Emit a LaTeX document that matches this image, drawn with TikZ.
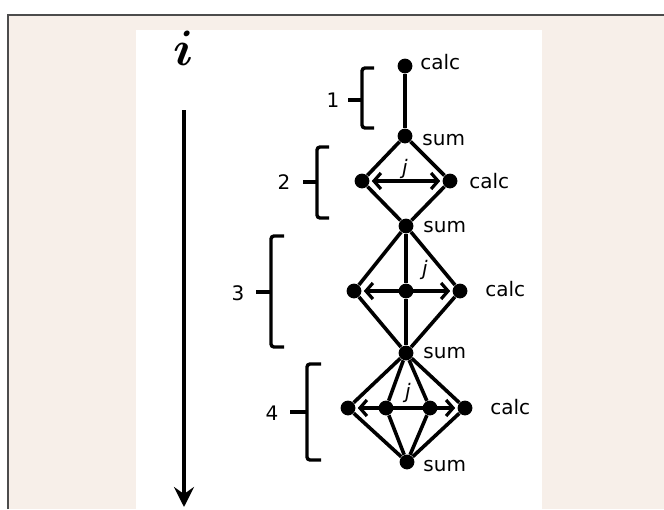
\documentclass[tikz,border=0pt]{standalone}
\usepackage{bm}
\usepackage{fontspec}
\setmainfont{DejaVu Sans}
\usetikzlibrary{arrows.meta,positioning}
\definecolor{paper}{RGB}{247,239,233}
\tikzset{dot/.style={circle,fill=black,inner sep=0pt,minimum size=7.4pt},
link/.style={line width=1.8pt},
jarrow/.style={line width=1.6pt,{Straight Barb[length=3.5pt,width=8pt]}-{Straight Barb[length=3.5pt,width=8pt]},shorten <=1pt,shorten >=1pt},
lbl/.style={font=\fontsize{10}{11}\selectfont,inner sep=1pt},
jlbl/.style={font=\fontsize{10}{11}\selectfont\itshape,inner sep=0pt},
brk/.style={line width=1.7pt,rounded corners=1.5pt}}

\begin{document}
\begin{tikzpicture}[x=0.5pt,y=-0.5pt]
\useasboundingbox (0,0) rectangle (664,509);
\fill[paper] (8,15) rectangle (664,509);
\draw[black!70,line width=0.6pt] (8,509) -- (8,15) -- (664,15);
\fill[white] (136,30) rectangle (542,509);
% direction i
\node[font=\fontsize{25}{27}\selectfont] (ilbl) at (184,48) {$\bm{i}$};
\coordinate (itop) at (184,110);
\coordinate (ibot) at (184,507);
\draw[line width=1.8pt,-{Stealth[length=10pt,width=10pt,inset=3.5pt]}] (itop) -- (ibot);
% level 1
\node[dot] (c1) at (405,66) {};
\node[dot] (s1) at (405,136) {};
\draw[link] (c1) -- (s1);
% level 2
\node[dot] (l2) at (362,181) {};
\node[dot] (r2) at (450,181) {};
\node[dot] (s2) at (406,226) {};
\draw[link] (s1) -- (l2) -- (s2) -- (r2) -- (s1);
\draw[jarrow] (l2) -- (r2);
% level 3
\node[dot] (l3) at (354,291) {};
\node[dot] (m3) at (406,291) {};
\node[dot] (r3) at (460,291) {};
\node[dot] (s3) at (406,353) {};
\foreach \n in {l3,m3,r3} \draw[link] (s2) -- (\n) -- (s3);
\draw[jarrow] (l3) -- (r3);
% level 4
\node[dot] (l4) at (348,408) {};
\node[dot] (a4) at (386,408) {};
\node[dot] (b4) at (430,408) {};
\node[dot] (r4) at (465,408) {};
\node[dot] (s4) at (407,462) {};
\foreach \n in {l4,a4,b4,r4} \draw[link] (s3) -- (\n) -- (s4);
\draw[jarrow] (l4) -- (r4);
% labels
\node[lbl,anchor=west] at (418,62) {calc};
\node[lbl,anchor=west] at (420,140) {sum};
\node[lbl,anchor=west] at (467,181) {calc};
\node[lbl,anchor=west] at (421,227) {sum};
\node[lbl,anchor=west] at (483,289) {calc};
\node[lbl,anchor=west] at (421,353) {sum};
\node[lbl,anchor=west] at (488,407) {calc};
\node[lbl,anchor=west] at (421,466) {sum};
\node[jlbl] at (405,169) {j};
\node[jlbl] at (425,270) {j};
\node[jlbl] at (408,393) {j};
% brackets
\draw[brk] (374,68) -| (362,128) -- (374,128);
\draw[brk] (362,100) -- (348,100);
\node[lbl] at (333,100) {1};
\draw[brk] (329,147) -| (317,218) -- (329,218);
\draw[brk] (317,182) -- (303,182);
\node[lbl] at (284,182) {2};
\draw[brk] (284,236) -| (271,347) -- (284,347);
\draw[brk] (271,292) -- (256,292);
\node[lbl] at (238,293) {3};
\draw[brk] (321,364) -| (307,460) -- (321,460);
\draw[brk] (307,412) -- (290,412);
\node[lbl] at (272,413) {4};
\end{tikzpicture}
\end{document}
